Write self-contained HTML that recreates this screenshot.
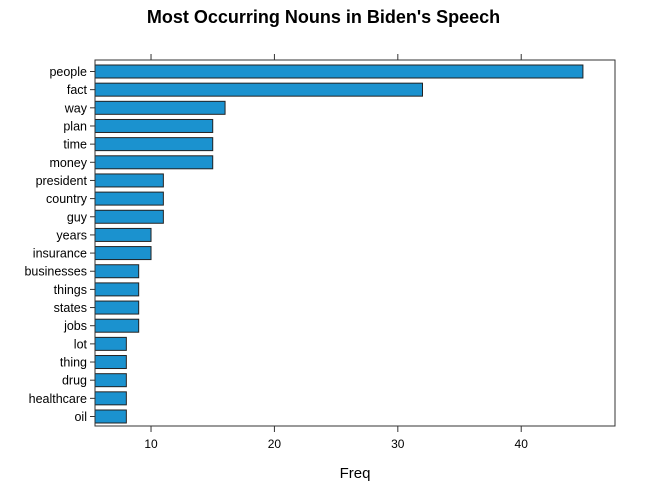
<!DOCTYPE html>
<html><head><meta charset="utf-8"><style>
body{margin:0;background:#fff;font-family:"Liberation Sans",Arial,sans-serif}
</style></head><body>
<svg id="c" width="647" height="494" xmlns="http://www.w3.org/2000/svg" font-family="Liberation Sans, Arial, sans-serif"></svg>
<script>
const categories=["people","fact","way","plan","time","money","president","country","guy","years","insurance","businesses","things","states","jobs","lot","thing","drug","healthcare","oil"];
const values=[45,32,16,15,15,15,11,11,11,10,10,9,9,9,9,8,8,8,8,8];
const ticks=[10,20,30,40];
const svg=document.getElementById('c');
const NS='http://www.w3.org/2000/svg';
const L=95,R=615,T=60,B=426;
const xmin=5.46,xmax=47.6;
const x=v=>L+(v-xmin)/(xmax-xmin)*(R-L);
const y0=71.5,y1=416.5;
const y=i=>y0+(y1-y0)*i/(categories.length-1);
function mk(t,a,txt){const e=document.createElementNS(NS,t);for(const k in a)e.setAttribute(k,a[k]);if(txt!==undefined)e.textContent=txt;svg.appendChild(e);return e;}
let e=mk('text',{x:323.5,y:23,'text-anchor':'middle','font-size':18,'font-weight':'bold'},"Most Occurring Nouns in Biden's Speech");


categories.forEach((c,i)=>{
 let b=mk('rect',{x:L,y:y(i)-6.5,width:x(values[i])-L,height:13,fill:'#1b92cf',stroke:'#222','stroke-width':1});
 
 
 let t=mk('text',{x:L-8,y:y(i)+4.5,'text-anchor':'end','font-size':12.5},c);
 
 
 let tk=mk('line',{x1:L-5,x2:L,y1:y(i),y2:y(i),stroke:'#333'});
 
 
});
let f=mk('rect',{x:L,y:T,width:R-L,height:B-T,fill:'none',stroke:'#333','stroke-width':1});


ticks.forEach(v=>{
 let a=mk('line',{x1:x(v),x2:x(v),y1:B,y2:B+6,stroke:'#333'});
 
 
 let b=mk('line',{x1:x(v),x2:x(v),y1:T-6,y2:T,stroke:'#333'});
 
 
 let t=mk('text',{x:x(v),y:B+22,'text-anchor':'middle','font-size':12},v);
 
 
});
e=mk('text',{x:355,y:478,'text-anchor':'middle','font-size':15},'Freq');


</script>
</body></html>
